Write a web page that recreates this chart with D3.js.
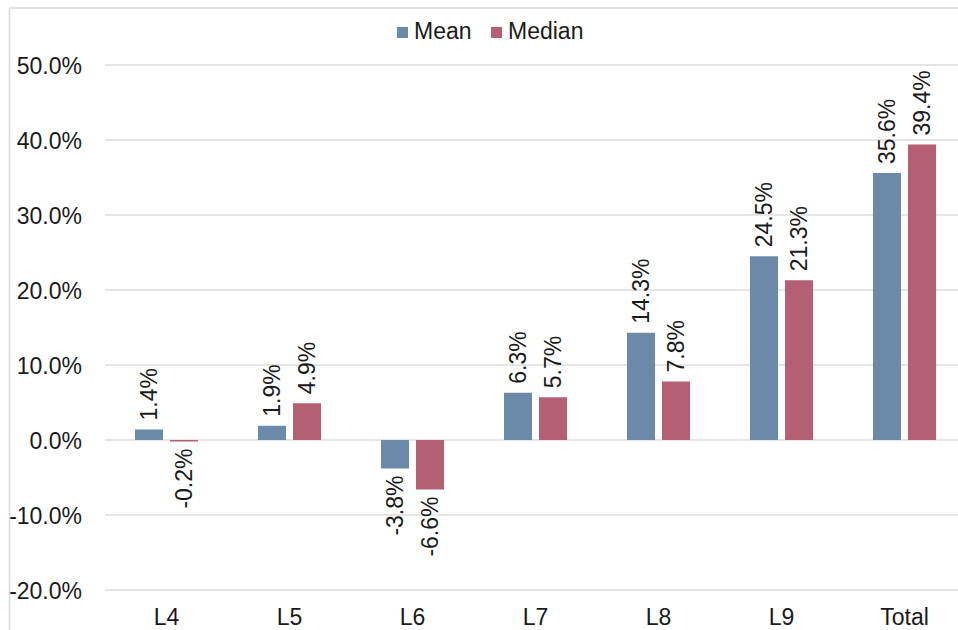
<!DOCTYPE html>
<html><head><meta charset="utf-8">
<script src="https://cdn.jsdelivr.net/npm/d3@7"></script>
<style>body{margin:0;background:#fff}svg{display:block;font-family:Arial,"Liberation Sans",sans-serif}</style>
</head><body><svg id="c" width="958" height="630"></svg>
<script>
const categories = ["L4","L5","L6","L7","L8","L9","Total"];
const seriesNames = ["Mean","Median"];
const meanValues = [1.4, 1.9, -3.8, 6.3, 14.3, 24.5, 35.6];
const medianValues = [-0.2, 4.9, -6.6, 5.7, 7.8, 21.3, 39.4];
const yTicks = [-20,-10,0,10,20,30,40,50];
const colors = {Mean:"#6b8aa9", Median:"#b45f73"};
const FONT = "Arial,'Liberation Sans',sans-serif";

const svg = d3.select("#c");
// frame
svg.append("line").attr("x1",9).attr("x2",958).attr("y1",8).attr("y2",8).attr("stroke","#d9d9d9").attr("stroke-width",1.5);
svg.append("line").attr("x1",9.5).attr("x2",9.5).attr("y1",8).attr("y2",630).attr("stroke","#d9d9d9").attr("stroke-width",1.5);

const x0 = d3.scaleBand().domain(categories).range([105,966]).paddingInner(0).paddingOuter(0);
const x1 = d3.scaleBand().domain(seriesNames).range([0,63]).paddingInner(0.2);
const y = d3.scaleLinear().domain([-20,50]).range([590,65]);

// grid
svg.append("g").selectAll("line").data(yTicks).join("line")
  .attr("x1",105).attr("x2",958).attr("y1",d=>y(d)).attr("y2",d=>y(d))
  .attr("stroke","#dcdcdc").attr("stroke-width",1.5);

// y labels
const yAxis = d3.axisLeft(y).tickValues(yTicks).tickFormat(d=>d.toFixed(1)+"%").tickSize(0).tickPadding(0);
const ga = svg.append("g").attr("transform","translate(82,0)").call(yAxis);
ga.select(".domain").remove();
ga.selectAll("text").attr("font-size",23).attr("fill","#1a1a1a").attr("font-family",FONT).attr("dy","0.36em");

// x labels
const xAxis = d3.axisBottom(x0).tickSize(0).tickPadding(0);
const gx = svg.append("g").attr("transform","translate(0,0)").call(xAxis);
gx.select(".domain").remove();
gx.selectAll("text").attr("font-size",23).attr("fill","#1a1a1a").attr("font-family",FONT).attr("y",625).attr("dy",0);

const data = categories.map((c,i)=>({cat:c, vals:[{s:"Mean",v:meanValues[i]},{s:"Median",v:medianValues[i]}]}));
const groups = svg.append("g").selectAll("g").data(data).join("g")
  .attr("transform",d=>`translate(${x0(d.cat)+(x0.bandwidth()-63)/2},0)`);
groups.selectAll("rect").data(d=>d.vals).join("rect")
  .attr("x",d=>x1(d.s)).attr("width",x1.bandwidth())
  .attr("y",d=>y(Math.max(0,d.v))).attr("height",d=>Math.abs(y(d.v)-y(0)))
  .attr("fill",d=>colors[d.s]);
groups.selectAll("text").data(d=>d.vals).join("text")
  .attr("transform",d=>{
    const cx = x1(d.s)+x1.bandwidth()/2;
    const yy = d.v>=0 ? y(d.v)-9 : y(d.v)+7;
    return `translate(${cx},${yy}) rotate(-90)`;
  })
  .attr("text-anchor",d=>d.v>=0?"start":"end")
  .attr("dy","0.36em")
  .attr("font-size",23).attr("fill","#1a1a1a")
  .text(d=>d.v.toFixed(1)+"%");

// legend
const leg = svg.append("g");
const legX = [397,491];
seriesNames.forEach((s,i)=>{
  leg.append("rect").attr("x",legX[i]).attr("y",27).attr("width",11).attr("height",11).attr("fill",colors[s]);
  leg.append("text").attr("x",legX[i]+17).attr("y",39).attr("font-size",23).attr("fill","#1a1a1a").text(s);
});
</script></body></html>
